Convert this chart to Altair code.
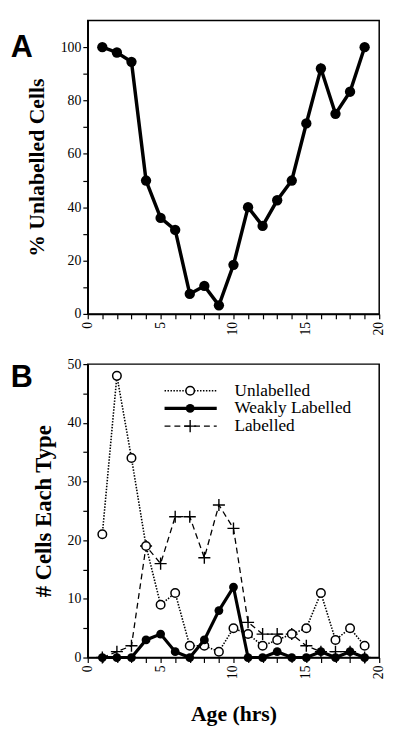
import altair as alt
import pandas as pd

# ---------------- data ----------------
ages = list(range(1, 20))
pct_unlabelled = [100, 98, 94.5, 50, 36, 31.5, 7.5, 10.5, 3.2, 18.4, 40, 33, 42.6, 50, 71.4, 92, 75, 83.3, 100]
unlabelled = [21, 48, 34, 19, 9, 11, 2, 2, 1, 5, 4, 2, 3, 4, 5, 11, 3, 5, 2]
weakly = [0, 0, 0, 3, 4, 1, 0, 3, 8, 12, 0, 0, 1, 0, 0, 1, 0, 1, 0]
labelled = [0, 1, 2, 19, 16, 24, 24, 17, 26, 22, 6, 4, 4, 4, 2, 1, 1, 1, 0]
series_names = ["Unlabelled", "Weakly Labelled", "Labelled"]
panel_letters = ["A", "B"]
x_ticks = list(range(0, 21))
x_tick_labels = [0, 5, 10, 15, 20]
yA_ticks = list(range(0, 101, 10))
yB_ticks = list(range(0, 51, 5))

SERIF = "Liberation Serif"
SANS = "Liberation Sans"
W, H = 296, 298

dfA = pd.DataFrame({"age": ages, "pct": pct_unlabelled})
dfB = pd.DataFrame({
    "age": ages * 3,
    "count": unlabelled + weakly + labelled,
    "series": [n for n in series_names for _ in ages],
})
df_letters = pd.DataFrame({"letter": panel_letters})
df_leg = pd.DataFrame({"series": series_names})
df_xlab = pd.DataFrame({"age": x_tick_labels})

xs = alt.Scale(domain=[0, 20], nice=False)


def x_axis(title=None):
    kw = dict(values=x_ticks, labels=False)
    if title:
        return alt.Axis(title=title, titlePadding=41, titleFontSize=22, **kw)
    return alt.Axis(title=None, **kw)


def x_labels(title=None):
    # vertical tick labels under the x axis (reading upwards)
    return alt.Chart(df_xlab).mark_text(
        angle=270, align="right", baseline="middle", font=SERIF, fontSize=14, color="black"
    ).encode(
        x=alt.X("age:Q", scale=xs, axis=x_axis(title)),
        y=alt.value(H + 8),
        text=alt.Text("age:Q"),
    )


# ---------------- panel A ----------------
baseA = alt.Chart(dfA).encode(
    x=alt.X("age:Q", scale=xs, axis=x_axis()),
    y=alt.Y("pct:Q", scale=alt.Scale(domain=[0, 110], nice=False),
            axis=alt.Axis(title="% Unlabelled Cells", values=yA_ticks,
                          labelExpr="datum.value % 20 == 0 ? datum.label : ''",
                          labelOverlap=False, titlePadding=12, titleFontSize=22)),
)
lineA = baseA.mark_line(color="black", strokeWidth=3.5)
ptsA = baseA.mark_point(filled=True, color="black", size=110, opacity=1)
letterA = alt.Chart(df_letters).transform_filter(alt.datum.letter == "A").mark_text(
    font=SANS, fontWeight="bold", fontSize=31, color="black"
).encode(x=alt.value(-67), y=alt.value(28), text="letter:N")
panelA = alt.layer(lineA, ptsA, x_labels(), letterA).properties(width=W, height=H)

# ---------------- panel B ----------------
baseB = alt.Chart(dfB).encode(
    x=alt.X("age:Q", scale=xs, axis=x_axis("Age (hrs)")),
    y=alt.Y("count:Q", scale=alt.Scale(domain=[0, 50], nice=False),
            axis=alt.Axis(title="# Cells Each Type", values=yB_ticks,
                          labelExpr="datum.value % 10 == 0 ? datum.label : ''",
                          labelOverlap=False, titlePadding=12, titleFontSize=23)),
)
PLUS = "M-1,0L1,0M0,-1L0,1"
styles = {
    "Labelled": dict(line=dict(strokeWidth=1.3, strokeDash=[6, 4]),
                     pt=dict(shape=PLUS, filled=False, size=150, strokeWidth=1.4)),
    "Unlabelled": dict(line=dict(strokeWidth=1.6, strokeDash=[1.5, 1.5]),
                       pt=dict(shape="circle", filled=True, fill="white", size=75,
                               strokeWidth=1.5, stroke="black")),
    "Weakly Labelled": dict(line=dict(strokeWidth=3.2),
                            pt=dict(shape="circle", filled=True, size=80)),
}


def point_mark(chart, name):
    kw = styles[name]["pt"]
    if name == "Labelled":
        return chart.mark_point(stroke="black", opacity=1, **kw)
    if name == "Unlabelled":
        return chart.mark_point(opacity=1, **kw)
    return chart.mark_point(color="black", opacity=1, **kw)


layersB = []
for name in ["Labelled", "Unlabelled", "Weakly Labelled"]:
    sub = baseB.transform_filter(alt.datum.series == name)
    layersB.append(sub.mark_line(color="black", **styles[name]["line"]))
    layersB.append(point_mark(sub, name))
layersB.append(x_labels("Age (hrs)"))

# manual legend (key drawn inside the plot, top right)
leg_rows = {"Unlabelled": 27, "Weakly Labelled": 45, "Labelled": 63}
for name in series_names:
    yv = leg_rows[name]
    legd = alt.Chart(df_leg).transform_filter(alt.datum.series == name)
    layersB.append(legd.mark_rule(color="black", **styles[name]["line"]).encode(
        x=alt.value(78), x2=alt.value(131), y=alt.value(yv)))
    layersB.append(point_mark(legd, name).encode(x=alt.value(104), y=alt.value(yv)))
    layersB.append(legd.mark_text(font=SERIF, fontSize=17.5, align="left", baseline="middle",
                                  color="black").encode(
        x=alt.value(149), y=alt.value(yv), text="series:N"))

letterB = alt.Chart(df_letters).transform_filter(alt.datum.letter == "B").mark_text(
    font=SANS, fontWeight="bold", fontSize=31, color="black"
).encode(x=alt.value(-67), y=alt.value(14), text="letter:N")
layersB.append(letterB)
panelB = alt.layer(*layersB).properties(width=W, height=H)

chart = alt.vconcat(panelA, panelB, spacing=20).properties(
    padding={"left": 2, "top": 6, "right": 5, "bottom": 5}
).configure_axis(
    domainColor="black", domainWidth=1.5, tickColor="black", tickWidth=1.2, tickSize=5,
    labelColor="black", labelFont=SERIF, labelFontSize=14,
    titleColor="black", titleFont=SERIF, titleFontWeight="bold", titleFontSize=19,
    grid=False,
).configure_view(stroke="black", strokeWidth=1.5)

chart.save("out.html", embed_options={"renderer": "svg", "actions": False})
